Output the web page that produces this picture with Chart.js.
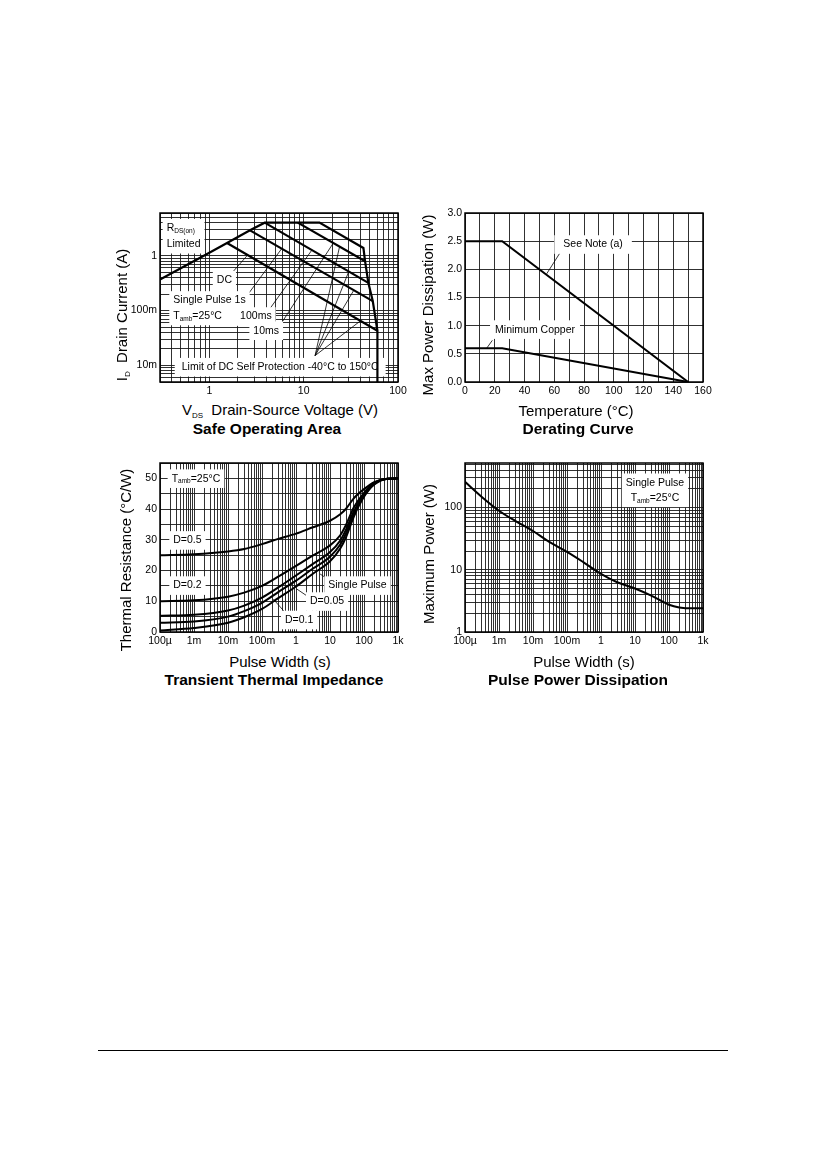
<!DOCTYPE html>
<html>
<head>
<meta charset="utf-8">
<script src="https://cdn.jsdelivr.net/npm/chart.js@4"></script>
<style>
body { margin: 0; background: #fff; }
#page { position: relative; width: 826px; height: 1169px; overflow: hidden; font-family: "Liberation Sans", Arial, sans-serif; color: #000; }
.box { position: absolute; }
.box canvas { display: block; }
.t { position: absolute; white-space: nowrap; transform: translate(-50%, -50%); }
.ax { font-size: 15px; }
.ttl { font-size: 15.5px; font-weight: bold; }
.rot { transform: translate(-50%, -50%) rotate(-90deg); }
sub { font-size: 8px; vertical-align: -3px; }
#rule { position: absolute; left: 98px; top: 1050px; width: 630px; height: 1px; background: #000; }
</style>
</head>
<body>
<div id="page">
  <div class="box" style="left:100px;top:200px"><canvas id="soa" width="310" height="200"></canvas></div>
  <div class="box" style="left:405px;top:200px"><canvas id="der" width="310" height="200"></canvas></div>
  <div class="box" style="left:100px;top:450px"><canvas id="tz" width="310" height="200"></canvas></div>
  <div class="box" style="left:405px;top:450px"><canvas id="pp" width="310" height="200"></canvas></div>

  <div class="t ax rot" style="left:122px;top:315px">I<sub>D</sub>&nbsp; Drain Current (A)</div>
  <div class="t ax" style="left:280px;top:410px">V<sub>DS</sub>&nbsp; Drain-Source Voltage (V)</div>
  <div class="t ttl" style="left:267px;top:429px">Safe Operating Area</div>

  <div class="t ax rot" style="left:427px;top:305px">Max Power Dissipation (W)</div>
  <div class="t ax" style="left:576px;top:410px">Temperature (°C)</div>
  <div class="t ttl" style="left:578px;top:429px">Derating Curve</div>

  <div class="t ax rot" style="left:125px;top:560px">Thermal Resistance (°C/W)</div>
  <div class="t ax" style="left:280px;top:661px">Pulse Width (s)</div>
  <div class="t ttl" style="left:274px;top:680px">Transient Thermal Impedance</div>

  <div class="t ax rot" style="left:428px;top:554px">Maximum Power (W)</div>
  <div class="t ax" style="left:584px;top:661px">Pulse Width (s)</div>
  <div class="t ttl" style="left:578px;top:680px">Pulse Power Dissipation</div>

  <div id="rule"></div>
</div>
<script>
const FONT = '"Liberation Sans", Arial, sans-serif';

// safe operating area (V, A)
const soaEnvV = [0.3, 1.0, 1.54, 2.7, 3.86, 14.7, 43, 44.8, 48.5, 54, 60.5, 60.5];
const soaEnvI = [0.37, 1.13, 1.7, 2.9, 4.0, 4.0, 1.38, 0.79, 0.32, 0.149, 0.043, 0.005];
const soaDcV = [1.54, 60.5];
const soaDcI = [1.7, 0.043];
const soa1sV = [2.7, 54];
const soa1sI = [2.9, 0.149];
const soa100msV = [3.86, 48.5];
const soa100msI = [4.0, 0.32];
const soa10msV = [8.66, 44.8];
const soa10msI = [4.0, 0.79];
const soaXTicks = [1, 10, 100];
const soaXText = ['1', '10', '100'];
const soaYTicks = [0.01, 0.1, 1];
const soaYText = ['10m', '100m', '1'];

// derating curve (°C, W)
const derTemp = [0, 25, 150];
const derNoteA = [2.5, 2.5, 0];
const derMinCu = [0.6, 0.6, 0];
const derXTicks = [0, 20, 40, 60, 80, 100, 120, 140, 160];
const derXText = ['0', '20', '40', '60', '80', '100', '120', '140', '160'];
const derYTicks = [0, 0.5, 1, 1.5, 2, 2.5, 3];
const derYText = ['0.0', '0.5', '1.0', '1.5', '2.0', '2.5', '3.0'];

// transient thermal impedance (s, °C/W)
const tzWidth = [1e-4, 1e-3, 1e-2, 3e-2, 0.1, 0.3, 1, 3, 10, 20, 30, 50, 100, 200, 500, 1000];
const tzD05 = [25.0, 25.3, 26.2, 27.0, 28.6, 30.3, 32.0, 34.0, 36.2, 38.3, 40.2, 43.5, 46.5, 48.8, 49.9, 50.0];
const tzD02 = [10.0, 10.3, 11.5, 12.8, 15.0, 18.0, 21.5, 24.8, 28.2, 31.5, 35.0, 40.5, 45.3, 48.6, 49.9, 50.0];
const tzD01 = [5.3, 5.6, 7.0, 8.6, 11.2, 14.5, 18.4, 22.0, 26.0, 29.8, 33.5, 39.2, 44.8, 48.4, 49.9, 50.0];
const tzD005 = [3.0, 3.4, 5.0, 6.8, 9.5, 13.0, 16.7, 20.5, 24.5, 28.5, 32.3, 38.3, 44.4, 48.2, 49.9, 50.0];
const tzSingle = [0.5, 1.3, 3.0, 4.8, 7.5, 11.0, 14.8, 18.8, 23.0, 27.2, 31.0, 37.5, 44.0, 48.0, 49.9, 50.0];
const tzYTicks = [0, 10, 20, 30, 40, 50];
const tzYText = ['0', '10', '20', '30', '40', '50'];
const pwXTicks = [1e-4, 1e-3, 1e-2, 0.1, 1, 10, 100, 1000];
const pwXText = ['100µ', '1m', '10m', '100m', '1', '10', '100', '1k'];

// pulse power dissipation (s, W)
const ppWidth = [1e-4, 3e-4, 1e-3, 3e-3, 1e-2, 3e-2, 0.1, 0.3, 1, 3, 10, 30, 100, 200, 500, 1000];
const ppPower = [259, 151, 89, 61, 42, 28, 19.4, 13.3, 8.6, 6.3, 5.0, 3.84, 2.74, 2.48, 2.4, 2.4];
const ppYTicks = [1, 10, 100];
const ppYText = ['1', '10', '100'];

// annotations, in data units
const noteSets = {
  soa: {
    labels: [
      { x: 0.353, y: 3.17, lines: [[['R'], ['DS(on)', 1]], [['Limited']]], lh: 16 },
      { x: 1.20, y: 0.357, lines: [[['DC']]] },
      { x: 0.415, y: 0.153, lines: [[['Single Pulse 1s']], [['T'], ['amb', 1], ['=25°C']]], lh: 15.5 },
      { x: 2.12, y: 0.078, lines: [[['100ms']]] },
      { x: 2.93, y: 0.043, lines: [[['10ms']]] },
      { x: 0.51, y: 0.0093, lines: [[['Limit of DC Self Protection -40°C to 150°C']]], padX: 7 }
    ],
    leaders: [
      [[1.78, 0.51], [2.51, 1.0]],
      [[2.49, 0.184], [5.86, 1.35]],
      [[4.19, 0.097], [12.2, 1.26]],
      [[5.62, 0.054], [20.6, 1.7]],
      [[13.2, 0.0151], [24, 1.45]],
      [[13.2, 0.0151], [30, 0.51]],
      [[13.2, 0.0151], [34, 0.235]],
      [[13.2, 0.0151], [40, 0.065]]
    ]
  },
  der: {
    labels: [
      { x: 66.1, y: 2.44, lines: [[['See Note (a)']]], padX: 9 },
      { x: 20.2, y: 0.93, lines: [[['Minimum Copper']]], padX: 5 }
    ],
    leaders: [
      [[65, 2.34], [54.9, 1.92]],
      [[18.4, 0.74], [14.6, 0.6]]
    ]
  },
  tz: {
    labels: [
      { x: 2.2e-4, y: 49.9, lines: [[['T'], ['amb', 1], ['=25°C']]] },
      { x: 2.46e-4, y: 29.8, lines: [[['D=0.5']]] },
      { x: 2.46e-4, y: 15.1, lines: [[['D=0.2']]] },
      { x: 8.9, y: 15.1, lines: [[['Single Pulse']]] },
      { x: 2.58, y: 9.9, lines: [[['D=0.05']]] },
      { x: 0.474, y: 3.9, lines: [[['D=0.1']]] }
    ],
    leaders: [
      [[10, 16.7], [5.1, 18.9]],
      [[2.9, 10.7], [1.05, 14.0]],
      [[0.53, 5.8], [0.215, 10.7]]
    ]
  },
  pp: {
    labels: [
      { x: 38.7, y: 250, lines: [[['Single Pulse']], [['T'], ['amb', 1], ['=25°C']]], lh: 15, align: 'center' }
    ],
    leaders: []
  }
};

function pts(xs, ys) { return xs.map((x, i) => ({ x: x, y: ys[i] })); }

function logGrid(min, max) {
  const out = [];
  for (let k = Math.floor(Math.log10(min)); k <= Math.ceil(Math.log10(max)); k++) {
    for (let m = 1; m < 10; m++) {
      const v = Number((m * Math.pow(10, k)).toPrecision(6));
      if (v >= min * 0.9999 && v <= max * 1.0001) out.push(v);
    }
  }
  return out;
}

function linGrid(min, max, step) {
  const out = [];
  for (let v = min; v <= max + step / 1000; v += step) out.push(Number(v.toFixed(6)));
  return out;
}

function labelFor(ticks, text) {
  return function (v) {
    for (let i = 0; i < ticks.length; i++) {
      if (Math.abs(v - ticks[i]) <= Math.abs(ticks[i]) * 1e-6 + 1e-12) return text[i];
    }
    return '';
  };
}

function subSize(fs) { return fs * 0.62; }

function lineWidthOf(ctx, line, fs) {
  let w = 0;
  line.forEach(s => {
    ctx.font = (s[1] ? subSize(fs) : fs) + 'px ' + FONT;
    w += ctx.measureText(s[0]).width;
  });
  return w;
}

function drawLabel(ctx, px, py, lb) {
  const fs = 10.5, lh = lb.lh || 15;
  const widths = lb.lines.map(l => lineWidthOf(ctx, l, fs));
  const W = Math.max.apply(null, widths);
  const n = lb.lines.length;
  const padX = lb.padX || 4, padY = 3;
  const left = lb.align === 'center' ? px - W / 2 : px;
  ctx.fillStyle = '#fff';
  ctx.fillRect(left - padX, py - fs * 0.6 - padY, W + 2 * padX, (n - 1) * lh + fs * 1.2 + 2 * padY);
  ctx.fillStyle = '#000';
  ctx.textBaseline = 'middle';
  ctx.textAlign = 'left';
  lb.lines.forEach((l, i) => {
    let x = lb.align === 'center' ? px - widths[i] / 2 : px;
    const y = py + i * lh;
    l.forEach(s => {
      ctx.font = (s[1] ? subSize(fs) : fs) + 'px ' + FONT;
      ctx.fillText(s[0], x, s[1] ? y + 3 : y);
      x += ctx.measureText(s[0]).width;
    });
  });
}

const notes = {
  id: 'notes',
  beforeDatasetsDraw(chart) {
    const set = noteSets[chart.canvas.id];
    if (!set) return;
    const ctx = chart.ctx, xs = chart.scales.x, ys = chart.scales.y;
    const a = chart.chartArea;
    ctx.save();
    ctx.beginPath();
    ctx.rect(a.left, a.top, a.width, a.height);
    ctx.clip();
    ctx.strokeStyle = '#000';
    ctx.lineWidth = 0.8;
    set.leaders.forEach(l => {
      ctx.beginPath();
      ctx.moveTo(xs.getPixelForValue(l[0][0]), ys.getPixelForValue(l[0][1]));
      ctx.lineTo(xs.getPixelForValue(l[1][0]), ys.getPixelForValue(l[1][1]));
      ctx.stroke();
    });
    set.labels.forEach(lb => drawLabel(ctx, xs.getPixelForValue(lb.x), ys.getPixelForValue(lb.y), lb));
    ctx.restore();
  },
  afterDraw(chart) {
    const ctx = chart.ctx, a = chart.chartArea;
    ctx.save();
    ctx.strokeStyle = '#000';
    ctx.lineWidth = 1.5;
    ctx.strokeRect(a.left, a.top, a.width, a.height);
    ctx.restore();
  }
};

function axis(type, min, max, grid, ticks, text, isX) {
  return {
    type: type,
    min: min,
    max: max,
    afterBuildTicks: s => { s.ticks = grid.map(v => ({ value: v })); },
    afterFit: s => { if (isX) s.height = 18; else s.width = 60; },
    grid: { color: '#1a1a1a', lineWidth: 0.9, drawTicks: false },
    border: { display: false },
    ticks: {
      autoSkip: false, maxRotation: 0, minRotation: 0, padding: 3, color: '#000',
      font: { family: FONT, size: 10.5 },
      callback: labelFor(ticks, text)
    }
  };
}

function line(xs, ys, w, smooth) {
  return {
    data: pts(xs, ys), showLine: true, borderColor: '#000', borderWidth: w,
    pointRadius: 0, fill: false, tension: 0,
    cubicInterpolationMode: smooth ? 'monotone' : 'default'
  };
}

function makeChart(id, datasets, x, y) {
  return new Chart(document.getElementById(id), {
    type: 'scatter',
    data: { datasets: datasets },
    options: {
      responsive: false,
      animation: false,
      layout: { padding: { top: 13, right: 12, left: 0, bottom: 0 } },
      plugins: { legend: { display: false }, tooltip: { enabled: false } },
      scales: { x: x, y: y }
    },
    plugins: [notes]
  });
}

makeChart('soa', [
  line(soaEnvV, soaEnvI, 2.2),
  line(soaDcV, soaDcI, 2.2),
  line(soa1sV, soa1sI, 2.2),
  line(soa100msV, soa100msI, 2.2),
  line(soa10msV, soa10msI, 2.2)
],
  axis('logarithmic', 0.3, 100, logGrid(0.3, 100), soaXTicks, soaXText, true),
  axis('logarithmic', 0.005, 6, logGrid(0.005, 6), soaYTicks, soaYText, false));

makeChart('der', [
  line(derTemp, derNoteA, 2),
  line(derTemp, derMinCu, 2)
],
  axis('linear', 0, 160, linGrid(0, 160, 10), derXTicks, derXText, true),
  axis('linear', 0, 3, linGrid(0, 3, 0.5), derYTicks, derYText, false));

makeChart('tz', [
  line(tzWidth, tzD05, 2, true),
  line(tzWidth, tzD02, 2, true),
  line(tzWidth, tzD01, 2, true),
  line(tzWidth, tzD005, 2, true),
  line(tzWidth, tzSingle, 2, true)
],
  axis('logarithmic', 1e-4, 1000, logGrid(1e-4, 1000), pwXTicks, pwXText, true),
  axis('linear', 0, 55, linGrid(0, 55, 5), tzYTicks, tzYText, false));

makeChart('pp', [
  line(ppWidth, ppPower, 2, true)
],
  axis('logarithmic', 1e-4, 1000, logGrid(1e-4, 1000), pwXTicks, pwXText, true),
  axis('logarithmic', 1, 520, logGrid(1, 520), ppYTicks, ppYText, false));
</script>
</body>
</html>
